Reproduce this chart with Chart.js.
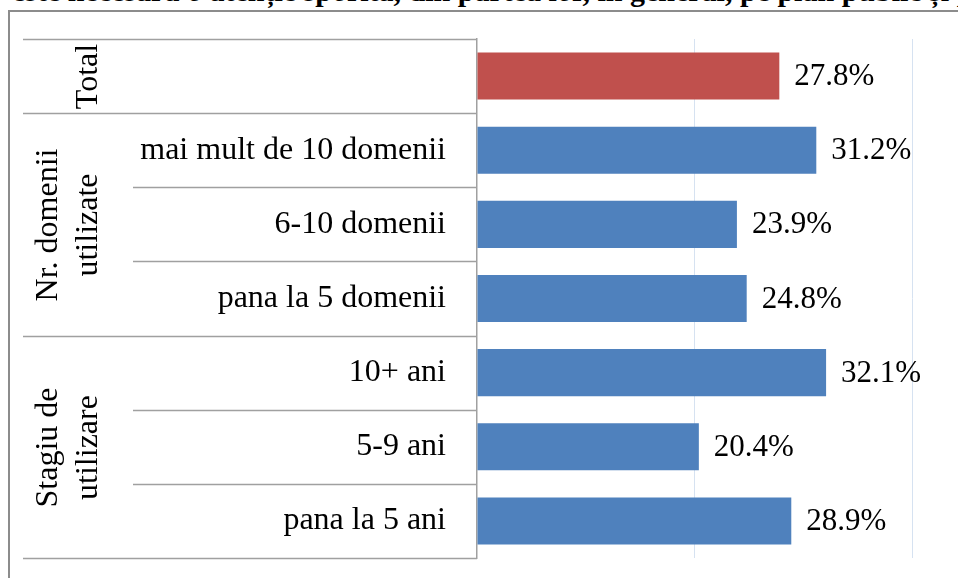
<!DOCTYPE html>
<html lang="ro">
<head>
<meta charset="utf-8">
<title>Stagiu de utilizare</title>
<script src="https://cdn.jsdelivr.net/npm/chart.js@4.4.0/dist/chart.umd.min.js"></script>
<style>
  html, body { margin: 0; padding: 0; background: #fff; overflow: hidden; }
  body { width: 958px; height: 578px; position: relative; }
  .heading {
    position: absolute; left: 12px; top: -26px;
    white-space: nowrap; line-height: 30px;
    font: bold 30px 'Liberation Serif', serif; color: #000;
  }
  .frame {
    position: absolute; left: 8px; top: 10px; width: 990px; height: 600px;
    border: 2px solid #8c8c8c; box-sizing: border-box;
  }
  #chart { position: absolute; left: 0; top: 0; }
</style>
</head>
<body>
<div class="heading">este necesară o atenție sporită, din partea lor, în general, pe plan public și privat</div>
<div class="frame"></div>
<canvas id="chart" width="958" height="578"></canvas>
<script>
// Row labels (the Total row has no label of its own), grouped below
const categories = ['', 'mai mult de 10 domenii', '6-10 domenii', 'pana la 5 domenii', '10+ ani', '5-9 ani', 'pana la 5 ani'];
const values = [27.8, 31.2, 23.9, 24.8, 32.1, 20.4, 28.9];
const groupNames = [['Total'], ['Nr. domenii', 'utilizate'], ['Stagiu de', 'utilizare']];
const groupSizes = [1, 3, 3];
const xTicks = [0, 20, 40];

const FONT = "'Liberation Serif', 'Times New Roman', serif";
const FONT_SIZE = 32;
const LINE_COLOR = '#a0a0a0';

/**
 * Left-hand table: row separators and rotated group names
 */
const tablePlugin = {
  id: 'tableLines',
  afterDraw(chart) {
    const { ctx, chartArea } = chart;
    const yScale = chart.scales.y;
    const outerLeft = 23;
    const innerLeft = 133;
    const edge = i => Math.round(yScale.getPixelForValue(i - 0.5)) + 0.5;

    ctx.save();
    ctx.strokeStyle = LINE_COLOR;
    ctx.lineWidth = 1.5;

    const hline = (x, y) => {
      ctx.beginPath();
      ctx.moveTo(x, y);
      ctx.lineTo(chartArea.left, y);
      ctx.stroke();
    };

    hline(outerLeft, edge(0));

    ctx.fillStyle = '#000';
    ctx.font = `${FONT_SIZE}px ${FONT}`;
    ctx.textAlign = 'center';
    ctx.textBaseline = 'alphabetic';

    let start = 0;
    groupSizes.forEach((size, g) => {
      for (let k = 1; k < size; k++) {
        hline(innerLeft, edge(start + k));
      }
      hline(outerLeft, edge(start + size));

      // group name, written bottom to top
      const middle = (edge(start) + edge(start + size)) / 2;
      const lines = groupNames[g];
      lines.forEach((text, j) => {
        const baseX = 97 - (lines.length - 1 - j) * 40;
        ctx.save();
        ctx.translate(baseX, middle);
        ctx.rotate(-Math.PI / 2);
        ctx.fillText(text, 0, 0);
        ctx.restore();
      });
      start += size;
    });
    ctx.restore();
  }
};

/**
 * Percentage labels to the right of each bar
 */
const valueLabels = {
  id: 'valueLabels',
  afterDatasetsDraw(chart) {
    const { ctx } = chart;
    const meta = chart.getDatasetMeta(0);
    ctx.save();
    ctx.fillStyle = '#000';
    ctx.font = `31px ${FONT}`;
    ctx.textAlign = 'left';
    ctx.textBaseline = 'middle';
    meta.data.forEach((bar, i) => {
      ctx.fillText(values[i].toFixed(1) + '%', bar.x + 15, bar.y + 1);
    });
    ctx.restore();
  }
};

new Chart(document.getElementById('chart'), {
  type: 'bar',
  data: {
    labels: categories,
    datasets: [{
      data: values,
      backgroundColor: values.map((v, i) => i < groupSizes[0] ? '#C0504D' : '#4F81BD'),
      borderWidth: 0,
      categoryPercentage: 1,
      barPercentage: 0.635
    }]
  },
  options: {
    indexAxis: 'y',
    responsive: false,
    animation: false,
    layout: {
      padding: { left: 23, top: 39, right: 46, bottom: 20 }
    },
    plugins: {
      legend: { display: false },
      tooltip: { enabled: false }
    },
    scales: {
      x: {
        min: xTicks[0],
        max: xTicks[xTicks.length - 1],
        afterBuildTicks: scale => {
          scale.ticks = xTicks.map(value => ({ value }));
        },
        afterFit: scale => {
          scale.height = 0;
          scale.paddingLeft = 0;
          scale.paddingRight = 0;
        },
        ticks: { display: false },
        border: { display: false },
        grid: {
          drawTicks: false,
          lineWidth: 1,
          color: c => (c.tick && c.tick.value === 0 ? 'rgba(0,0,0,0)' : '#d6e2f1')
        }
      },
      y: {
        afterFit: scale => {
          scale.width = 454;
          scale.paddingTop = 0;
          scale.paddingBottom = 0;
        },
        ticks: {
          color: '#000',
          font: { family: FONT, size: FONT_SIZE },
          padding: 31
        },
        grid: { display: false, drawTicks: false },
        border: { display: true, color: LINE_COLOR, width: 1.5 }
      }
    }
  },
  plugins: [tablePlugin, valueLabels]
});
</script>
</body>
</html>
